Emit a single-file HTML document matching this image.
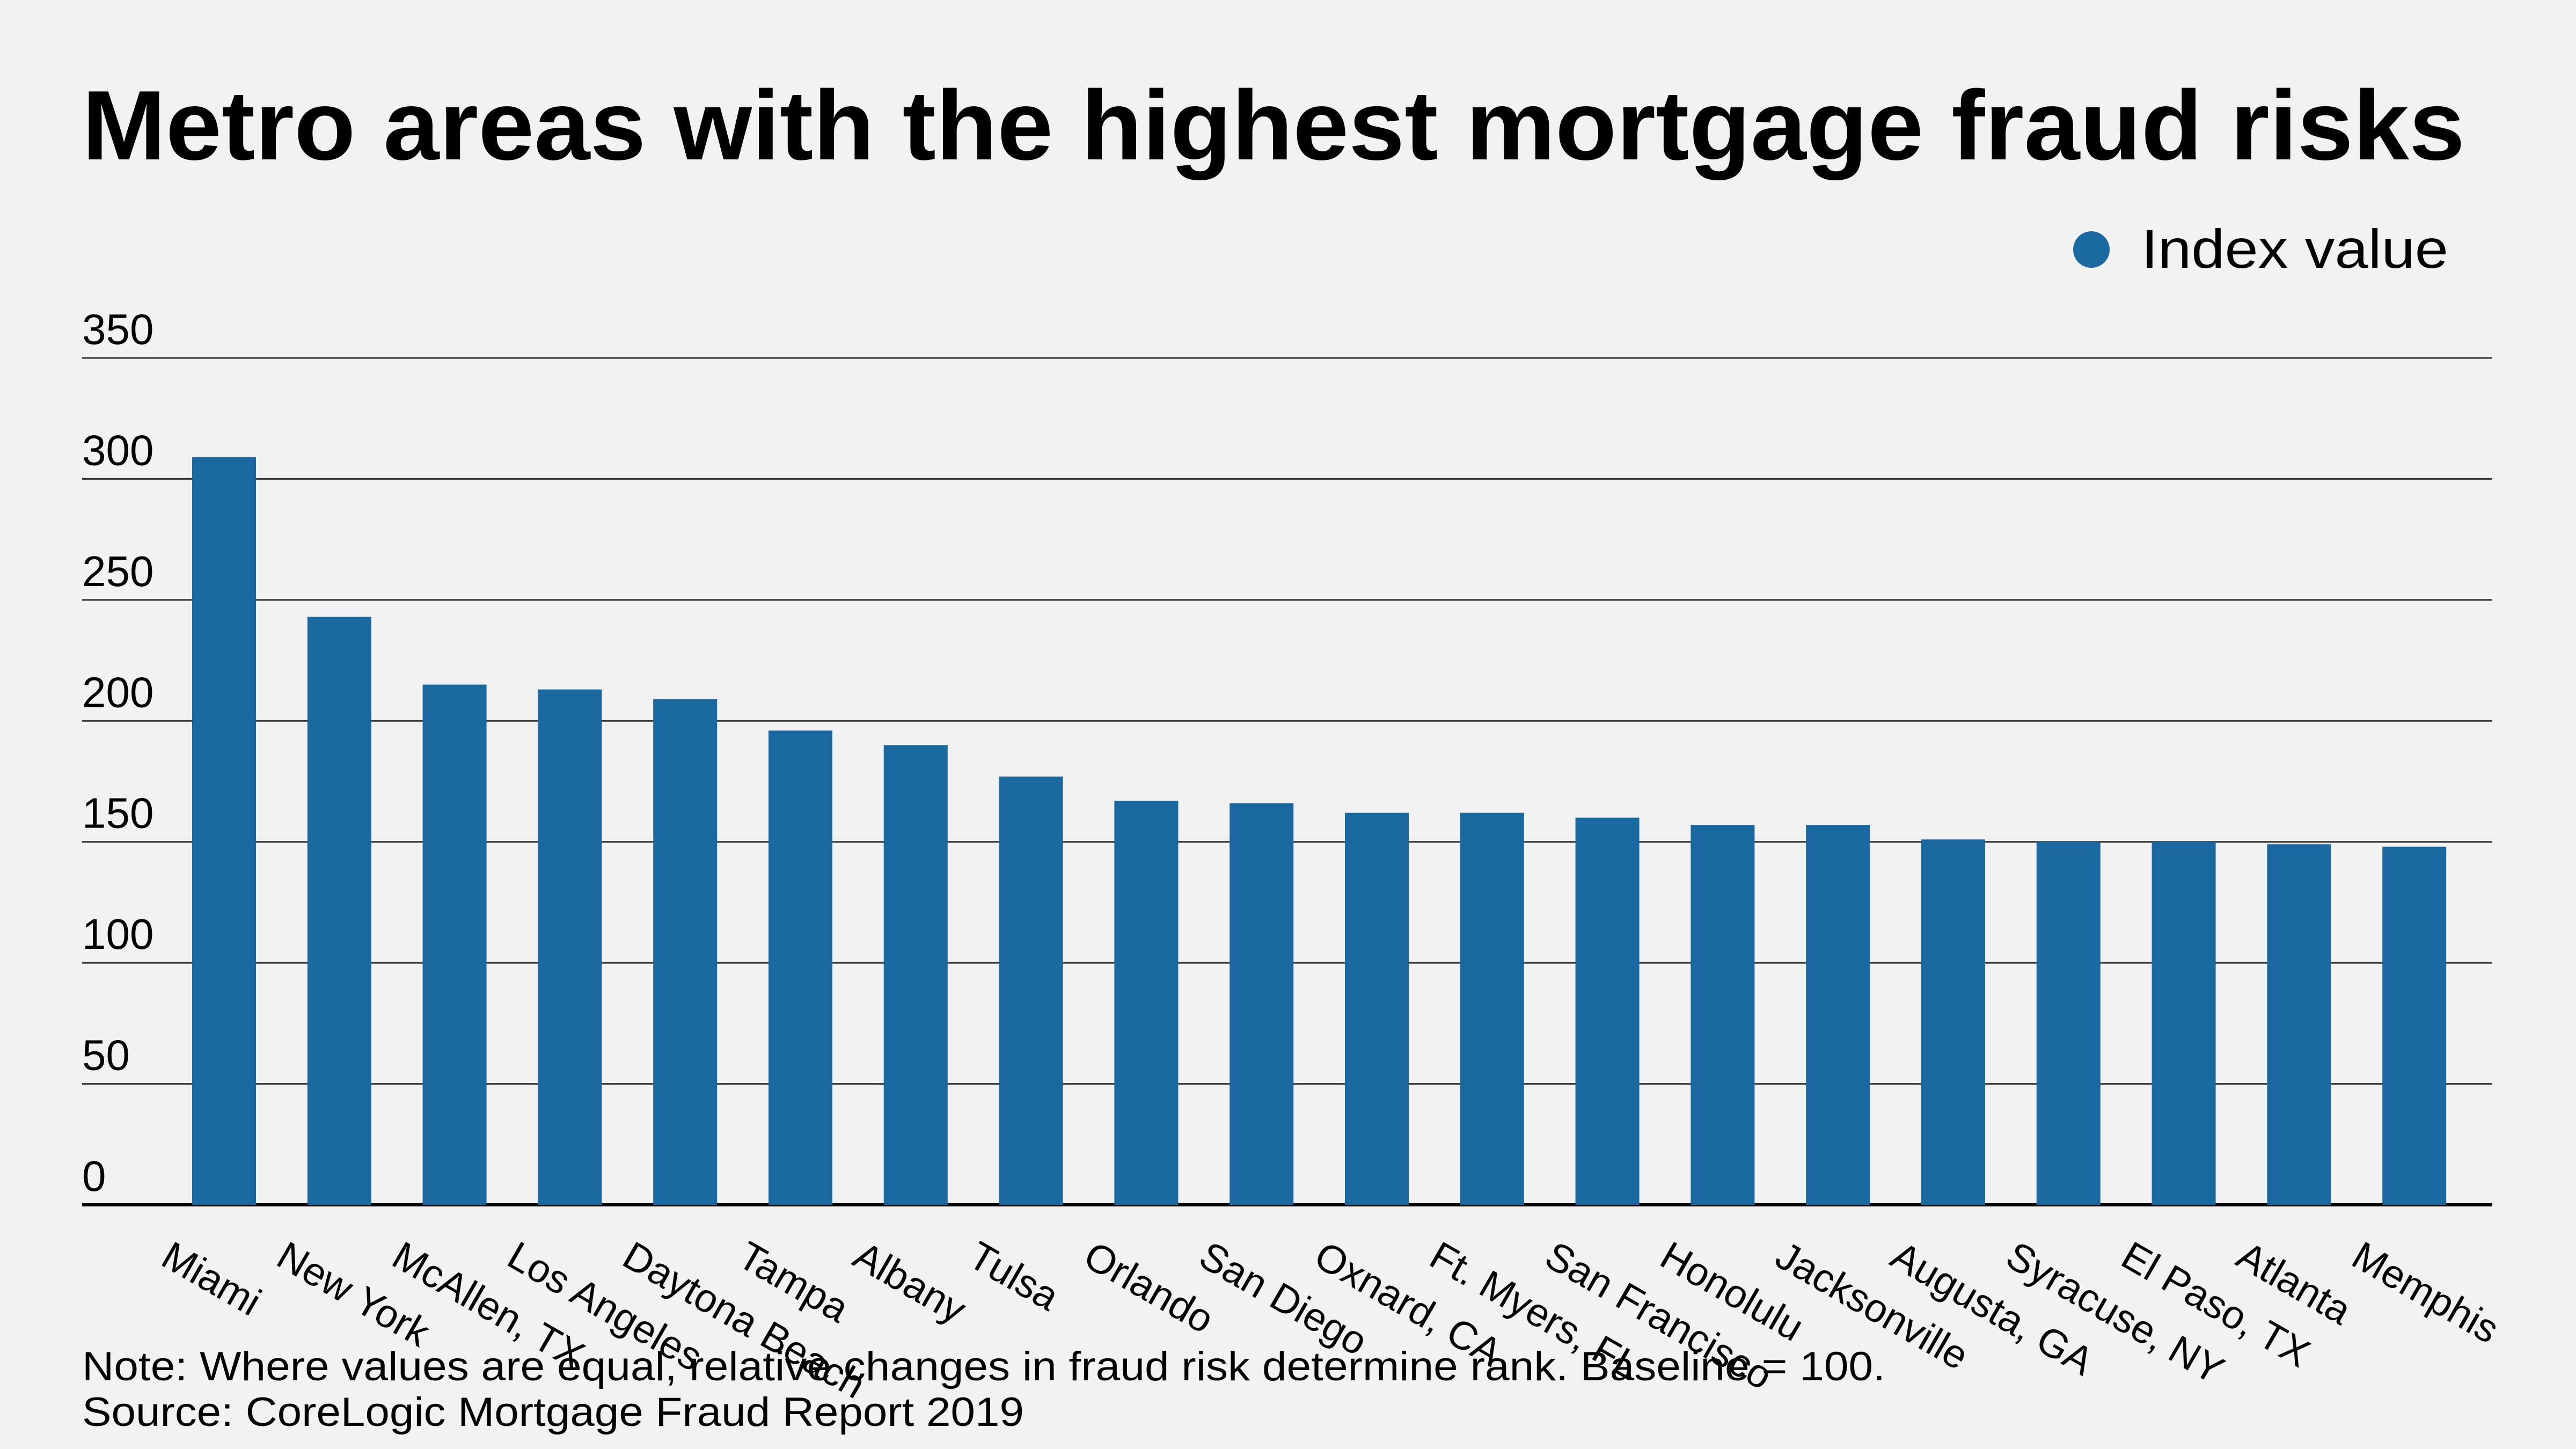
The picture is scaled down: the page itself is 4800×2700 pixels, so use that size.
<!DOCTYPE html>
<html><head><meta charset="utf-8"><style>
html,body{margin:0;padding:0;background:#f1f2f1;}
svg{display:block;font-family:"Liberation Sans",sans-serif;}
</style></head><body>
<svg width="4800" height="2700" viewBox="0 0 4800 2700">
<rect width="4800" height="2700" fill="#f1f2f1"/>
<text x="153" y="297" font-size="184" font-weight="bold" fill="#000" textLength="4440" lengthAdjust="spacingAndGlyphs">Metro areas with the highest mortgage fraud risks</text>
<g>
<circle cx="3897" cy="465" r="34" fill="#1a68a0"/>
<text x="3990" y="499" font-size="102" fill="#000" textLength="572" lengthAdjust="spacingAndGlyphs">Index value</text>
</g>
<g id="grid"></g><g id="bars"></g><g id="xlabels"></g>
<text x="153" y="2572" font-size="76" fill="#000" textLength="3360" lengthAdjust="spacingAndGlyphs">Note: Where values are equal, relative changes in fraud risk determine rank. Baseline = 100.</text>
<text x="153" y="2657" font-size="76" fill="#000" textLength="1755" lengthAdjust="spacingAndGlyphs">Source: CoreLogic Mortgage Fraud Report 2019</text>
</svg>
<script>
const categories=["Miami","New York","McAllen, TX","Los Angeles","Daytona Beach","Tampa","Albany","Tulsa","Orlando","San Diego","Oxnard, CA","Ft. Myers, FL","San Francisco","Honolulu","Jacksonville","Augusta, GA","Syracuse, NY","El Paso, TX","Atlanta","Memphis"];
const values=[309,243,215,213,209,196,190,177,167,166,162,162,160,157,157,151,150,150,149,148];
const ticks=[0,50,100,150,200,250,300,350];
const NS="http://www.w3.org/2000/svg";
const y0=2245,yTop=667,vMax=350;
function y(v){return y0-(y0-yTop)*v/vMax;}
const x0=358,pitch=214.8,bw=119;
function x(i){return x0+i*pitch;}
const grid=document.getElementById('grid');
ticks.forEach(t=>{
 const l=document.createElementNS(NS,'line');
 l.setAttribute('x1',153);l.setAttribute('x2',4644);
 l.setAttribute('y1',y(t));l.setAttribute('y2',y(t));
 l.setAttribute('stroke',t===0?'#000':'#333');l.setAttribute('stroke-width',t===0?6:3);
 
 
 grid.appendChild(l);
 const tx=document.createElementNS(NS,'text');
 tx.setAttribute('x',153);tx.setAttribute('y',y(t)-26);
 tx.setAttribute('font-size',80);tx.textContent=t;
 
 
 grid.appendChild(tx);
});
const bars=document.getElementById('bars'),xl=document.getElementById('xlabels');
values.forEach((v,i)=>{
 const r=document.createElementNS(NS,'rect');
 r.setAttribute('x',x(i));r.setAttribute('width',bw);
 r.setAttribute('y',y(v));r.setAttribute('height',y0-y(v));
 r.setAttribute('fill','#1a68a0');
 
 
 bars.appendChild(r);
 const t=document.createElementNS(NS,'text');
 const lx=x(i)-62,ly=2355;
 t.setAttribute('x',lx);t.setAttribute('y',ly);
 t.setAttribute('font-size',74);
 t.setAttribute('transform','rotate(30 '+lx+' '+ly+')');
 t.textContent=categories[i];
 
 
 xl.appendChild(t);
});
</script>
</body></html>
